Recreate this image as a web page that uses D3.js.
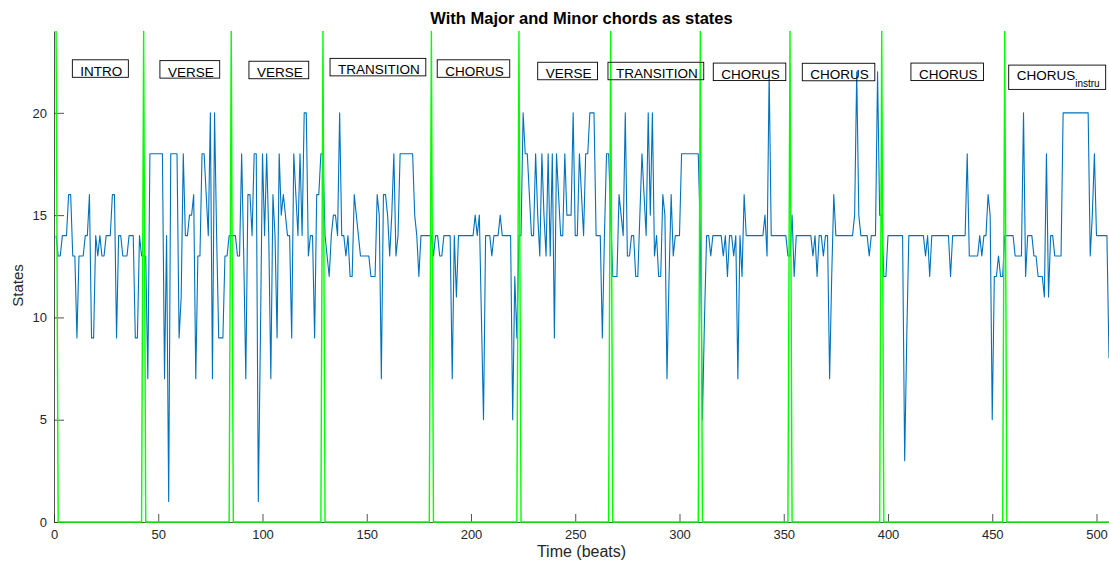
<!DOCTYPE html>
<html>
<head>
<meta charset="utf-8">
<script src="https://cdn.jsdelivr.net/npm/d3@7"></script>
<style>
  body { margin: 0; background: #fff; }
  svg { display: block; font-family: "Liberation Sans", Arial, Helvetica, sans-serif; }
</style>
</head>
<body>
<svg id="chart" width="1109" height="561"></svg>
<script>
// Chord state per beat (beat 1 .. 506)
const states = [
  14,13,13,14,14,14,16,16,13,13, 9,13,13,13,14,14,16, 9, 9,14,
  13,14,13,13,14,14,14,16,16, 9,14,14,13,13,13,14,14,14, 9, 9,
  14,13,13,13, 7,18,18,18,18,18,18,18, 7,14, 1,18,18,18,18, 9,
  11,18,14,14,15,15,16, 7,13,13,18,18,16,14,20, 7,20,14, 9, 9,
   9,13,13,14,14,14,14,13,13,18,13, 7,16,16,14,18,18, 1, 9,18,
  14,18,14, 7,16,14, 9,18,15,16,15,14,14, 9,18,16,14,18,14,20,
  20,13,14,14, 9,16,16,18,18,14,13,12,14,15,15,14,20,14,14,13,
  14,12,12,16,15,14,13,13,13,13,13,12,12,12,16,15, 7,16,16,15,
  13,15,18,13,14,18,18,18,18,18,18,18,15,14,12,14,14,14,14,14,
  14,13,14,14,13,13,14,14,14,14, 7,14,11,14,14,14,14,14,14,14,
  14,15,14,15,10, 5,14,14,14,13,14,14,14,15,14,14,14,14,14, 5,
  12, 9,14,14,20,18,18,16,14,14,18,15,13,18,15,13,18,13,18, 9,
  18,16,14,14,18,15,15,15,20,14,14,18,16,14,18,18,20,20,20,14,
  14,14, 9,14,18,18,15,12,12,12,16,15,14,20,13,13,14,14,12,12,
  15,18,16,14,20,15,20,13,14,12,12,16,15, 7,12,16,13,14,14,14,
  18,18,18,18,18,18,18,18,18,14, 5,10,14,14,13,14,14,14,14,14,
  13,14,12,14,14,13,14, 7,14,12,16,14,14,14,14,14,14,14,14,14,
  15,13,22,14,14,14,14,14,14,14,14,13,13,15,12,14,14,14,14,14,
  14,14,14,13,14,12,14,14,13,14,14, 7,12,16,14,14,14,14,14,14,
  14,14,14,15,22,15,14,14,14,14,13,14,14,14,22,15,15,12,12,14,
  14,14,14,14,14,14,14, 3, 9,14,14,14,14,14,14,14,14,13,14,12,
  14,14,14,14,14,14,14,14,14,12,14,14,14,14,14,14,14,18,13,13,
  13,13,13,14,13,14,14,16,15, 5,12,12,13,12,12,14,14,14,14,14,
  13,13,13,13,20,12,14,14,14,13,13,12,12,12,11,18,11,14,14,13,
  13,13,13,20,20,20,20,20,20,20,20,20,20,20,20,20,13,15,18,14,
  14,14,14,14,14, 8
];

// Beats where a new section begins
const boundaries = [1, 43, 85, 129, 181, 223, 267, 310, 353, 397, 456];
const boundaryLevel = 24;

// Section annotations
const sectionNames = ["INTRO", "VERSE", "VERSE", "TRANSITION", "CHORUS", "VERSE",
                      "TRANSITION", "CHORUS", "CHORUS", "CHORUS", "CHORUS"];
const sectionSubs  = ["", "", "", "", "", "", "", "", "", "", "instru"];
const sectionBeat  = [8.8, 50.8, 93.5, 132.4, 183.8, 232.0, 265.7, 316.2, 358.9, 411.0, 457.9];
const sectionLevel = [21.81, 21.77, 21.74, 21.88, 21.81, 21.69, 21.69, 21.65, 21.64, 21.65, 21.60];

const xTicks = [0, 50, 100, 150, 200, 250, 300, 350, 400, 450, 500];
const yTicks = [0, 5, 10, 15, 20];

const titleText = "With Major and Minor chords as states";
const xLabel = "Time (beats)";
const yLabel = "States";

// ---- layout ----
const plot = { left: 54, right: 1109, top: 31, bottom: 522 };
const x = d3.scaleLinear().domain([0, 506]).range([plot.left, plot.right]);
const y = d3.scaleLinear().domain([0, 24]).range([plot.bottom, plot.top]);

const svg = d3.select("#chart");
svg.append("defs").append("clipPath").attr("id", "plotClip")
  .append("rect")
  .attr("x", plot.left).attr("y", plot.top - 1)
  .attr("width", plot.right - plot.left).attr("height", plot.bottom - plot.top + 2);

const axisColor = "#262626";

// y axis, ticks pointing inward
const gy = svg.append("g")
  .attr("transform", `translate(${plot.left},0)`)
  .call(d3.axisLeft(y).tickValues(yTicks).tickSizeInner(-10).tickSizeOuter(0).tickPadding(7));
gy.select(".domain").attr("stroke", axisColor).attr("stroke-width", 0.8);
gy.selectAll(".tick line").attr("stroke", axisColor).attr("stroke-width", 0.8);
gy.selectAll(".tick text").attr("fill", axisColor).style("font-size", "13px");

// x axis, ticks pointing inward
const gx = svg.append("g")
  .attr("transform", `translate(0,${plot.bottom})`)
  .call(d3.axisBottom(x).tickValues(xTicks).tickSizeInner(-8).tickSizeOuter(0).tickPadding(8));
gx.select(".domain").attr("stroke", axisColor).attr("stroke-width", 0.8);
gx.selectAll(".tick line").attr("stroke", axisColor).attr("stroke-width", 0.8);
gx.selectAll(".tick text").attr("fill", axisColor).style("font-size", "13px");

const plotArea = svg.append("g").attr("clip-path", "url(#plotClip)");

// state sequence
const line = d3.line().x((d, i) => x(i + 1)).y(d => y(d));
plotArea.append("path")
  .datum(states)
  .attr("fill", "none")
  .attr("stroke", "#0072BD")
  .attr("stroke-width", 1.1)
  .attr("stroke-linejoin", "round")
  .attr("d", line);

// section boundary indicator: spike at each boundary beat, zero elsewhere
const boundarySet = new Set(boundaries);
const indicator = states.map((_, i) => boundarySet.has(i + 1) ? boundaryLevel : 0);
plotArea.append("path")
  .datum(indicator)
  .attr("fill", "none")
  .attr("stroke", "#00ff00")
  .attr("stroke-width", 1.4)
  .attr("d", line);

// section labels with boxes
const labels = svg.append("g");
sectionNames.forEach((name, i) => {
  const g = labels.append("g");
  const bx = x(sectionBeat[i]);
  const base = y(sectionLevel[i]);
  const t = g.append("text")
    .attr("x", bx + 8)
    .attr("y", base)
    .attr("fill", "#000")
    .style("font-size", "13.5px")
    .text(name);
  let bottomPad = 1.5, topPad = 16;
  if (sectionSubs[i]) {
    t.append("tspan")
      .attr("dy", 6.5)
      .style("font-size", "10px")
      .text(sectionSubs[i]);
    bottomPad = 9.3;
    topPad = 15;
  }
  const w = t.node().getComputedTextLength();
  g.insert("rect", "text")
    .attr("x", bx)
    .attr("y", base - topPad)
    .attr("width", w + 14)
    .attr("height", topPad + bottomPad)
    .attr("fill", "none")
    .attr("stroke", "#000")
    .attr("stroke-width", 0.9);
});

// title and axis labels
svg.append("text")
  .attr("x", (plot.left + plot.right) / 2)
  .attr("y", 24)
  .attr("text-anchor", "middle")
  .attr("fill", "#000")
  .style("font-size", "16.5px")
  .style("font-weight", "bold")
  .text(titleText);

svg.append("text")
  .attr("x", (plot.left + plot.right) / 2)
  .attr("y", 557)
  .attr("text-anchor", "middle")
  .attr("fill", axisColor)
  .style("font-size", "16px")
  .text(xLabel);

svg.append("text")
  .attr("transform", `translate(23,${(plot.top + plot.bottom) / 2 + 9}) rotate(-90)`)
  .attr("text-anchor", "middle")
  .attr("fill", axisColor)
  .style("font-size", "15px")
  .text(yLabel);
</script>
</body>
</html>
